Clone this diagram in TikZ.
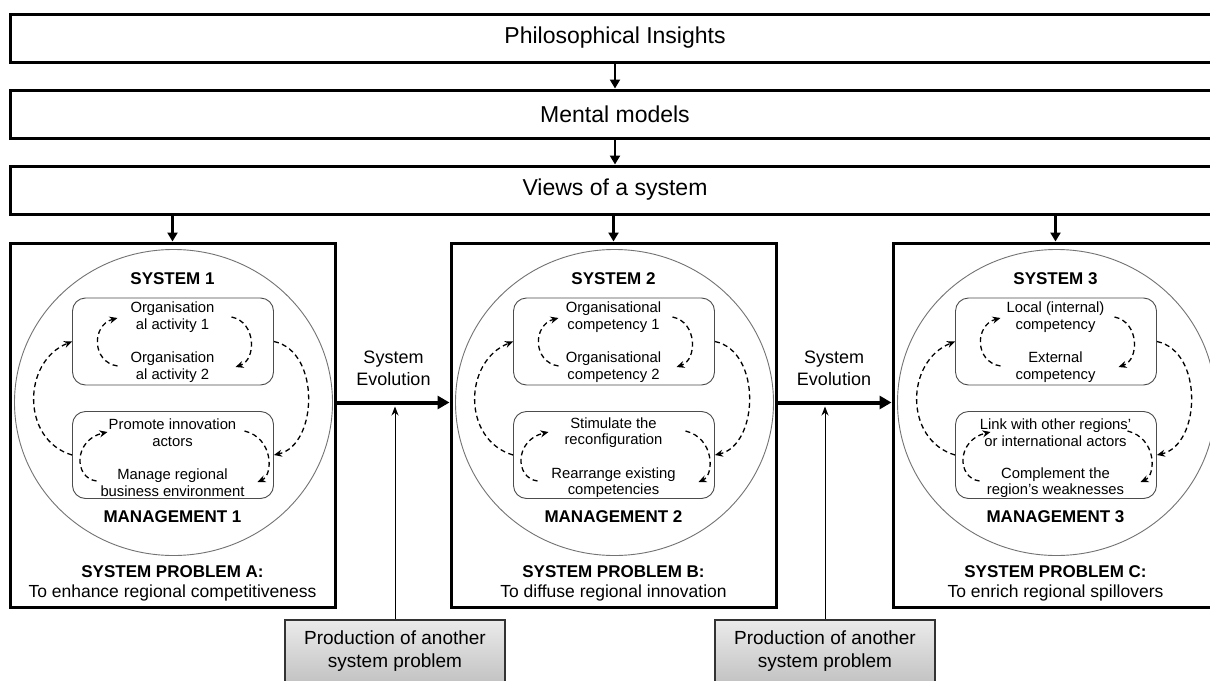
\documentclass[tikz,border=0pt]{standalone}
\usepackage{fontspec}
\setmainfont{Liberation Sans}
\usetikzlibrary{arrows.meta,shapes.geometric}
\tikzset{
  tbox/.style={draw=black, line width=3pt, minimum width=1210pt, minimum height=48pt, inner sep=0pt,
    font=\fontsize{23pt}{27pt}\selectfont},
  sbox/.style={draw=black, line width=3pt, minimum width=325pt, minimum height=364pt, inner sep=0pt},
  circ/.style={draw=black!55, line width=0.9pt, ellipse, minimum width=318pt, minimum height=306pt, inner sep=0pt},
  ibox/.style={draw=black!70, line width=0.9pt, rounded corners=13pt, minimum width=201pt, minimum height=87pt, inner sep=0pt},
  sttl/.style={font=\bfseries\fontsize{17pt}{20pt}\selectfont, inner sep=0pt},
  itxt/.style={align=center, font=\fontsize{14.8pt}{16.5pt}\selectfont, inner sep=0pt},
  ptxt/.style={font=\fontsize{17.5pt}{21pt}\selectfont, inner sep=0pt},
  evtxt/.style={align=center, font=\fontsize{18pt}{22pt}\selectfont, inner sep=0pt},
  pbox/.style={draw=black!80, line width=1.3pt, top color=black!8, bottom color=black!28, minimum width=220pt, minimum height=80pt, inner sep=0pt},
  prtxt/.style={align=center, font=\fontsize{19pt}{23pt}\selectfont, inner sep=0pt},
  darr/.style={line width=2.5pt, -{Triangle[length=9pt,width=10pt]}},
  evarr/.style={line width=4pt, -{Triangle[length=12pt,width=13pt]}},
  tarr/.style={line width=1pt, -{Stealth[length=9pt,width=7pt]}},
  dloop/.style={line width=1.3pt, dash pattern=on 5pt off 3.5pt, -{Stealth[length=8pt,width=7pt]}},
}
\newcommand{\sysunit}[8]{%
  \node[sbox] (s#2) at (#1,425) {};
  \node[circ] (c#2) at ({#1+1},402.5) {};
  \node[ibox] (t#2) at ({#1+0.5},341.5) {};
  \node[ibox] (b#2) at ({#1+0.5},455) {};
  \node[sttl] (st#2) at (#1,279) {SYSTEM #2};
  \node[itxt] (ta#2) at (#1,317) {#3};
  \node[itxt] (tb#2) at (#1,367) {#4};
  \node[itxt] (ba#2) at (#1,432.5) {#5};
  \node[itxt] (bb#2) at (#1,482.5) {#6};
  \node[sttl] (mg#2) at (#1,517) {MANAGEMENT #2};
  \node[sttl] (pa#2) at (#1,572) {SYSTEM PROBLEM #7:};
  \node[ptxt] (pb#2) at (#1,593) {#8};
  \draw[dloop] (b#2.west) .. controls +(-51,-15) and +(-50,20) .. (t#2.west);
  \draw[dloop] (t#2.east) .. controls +(47,10) and +(44,-10) .. (b#2.east);
  \draw[dloop] ({#1-55},366) .. controls ({#1-81},362) and ({#1-81},325) .. ({#1-55},318);
  \draw[dloop] ({#1+59},317) .. controls ({#1+84},322) and ({#1+84},360) .. ({#1+63},367);
  \draw[dloop] ({#1-76},481) .. controls ({#1-99},478) and ({#1-99},440) .. ({#1-65},432);
  \draw[dloop] ({#1+72},431) .. controls ({#1+101},438) and ({#1+101},475) .. ({#1+85},482);
}
\begin{document}
\begin{tikzpicture}[x=1pt,y=-1pt]
\useasboundingbox (0,0) rectangle (1210,680);
\clip (0,0) rectangle (1210,680);
\fill[white] (0,0) rectangle (1210,680);

\node[tbox] (phil) at (615,38) {Philosophical Insights};
\node[tbox] (mental) at (615,114) {Mental models};
\node[tbox] (views) at (615,190) {Views of a system};
\draw[darr] (phil) -- (mental);
\draw[darr] (mental) -- (views);

\sysunit{172.5}{1}{Organisation\\al activity 1}{Organisation\\al activity 2}{Promote innovation\\actors}{Manage regional\\business environment}{A}{To enhance regional competitiveness}
\sysunit{613.5}{2}{Organisational\\competency 1}{Organisational\\competency 2}{Stimulate the\\reconfiguration}{Rearrange existing\\competencies}{B}{To diffuse regional innovation}
\sysunit{1055.5}{3}{Local (internal)\\competency}{External\\competency}{Link with other regions'\\or international actors}{Complement the\\region's weaknesses}{C}{To enrich regional spillovers}

\draw[darr] (views.south -| s1.north) -- (s1.north);
\draw[darr] (views.south -| s2.north) -- (s2.north);
\draw[darr] (views.south -| s3.north) -- (s3.north);

\draw[evarr] (s1.east |- c1.center) -- (s2.west |- c2.center);
\draw[evarr] (s2.east |- c2.center) -- (s3.west |- c3.center);
\node[evtxt] (ev1) at (393.5,368) {System\\Evolution};
\node[evtxt] (ev2) at (834,368) {System\\Evolution};

\node[pbox] (pr1) at (395,660) {};
\node[prtxt] (pr1t) at (395,651) {Production of another\\system problem};
\node[pbox] (pr2) at (825,660) {};
\node[prtxt] (pr2t) at (825,651) {Production of another\\system problem};
\coordinate (m1) at (pr1.north |- c1.center);
\coordinate (m2) at (pr2.north |- c2.center);
\draw[tarr] (pr1.north) -- ([yshift=-4pt]m1);
\draw[tarr] (pr2.north) -- ([yshift=-4pt]m2);
\end{tikzpicture}
\end{document}
